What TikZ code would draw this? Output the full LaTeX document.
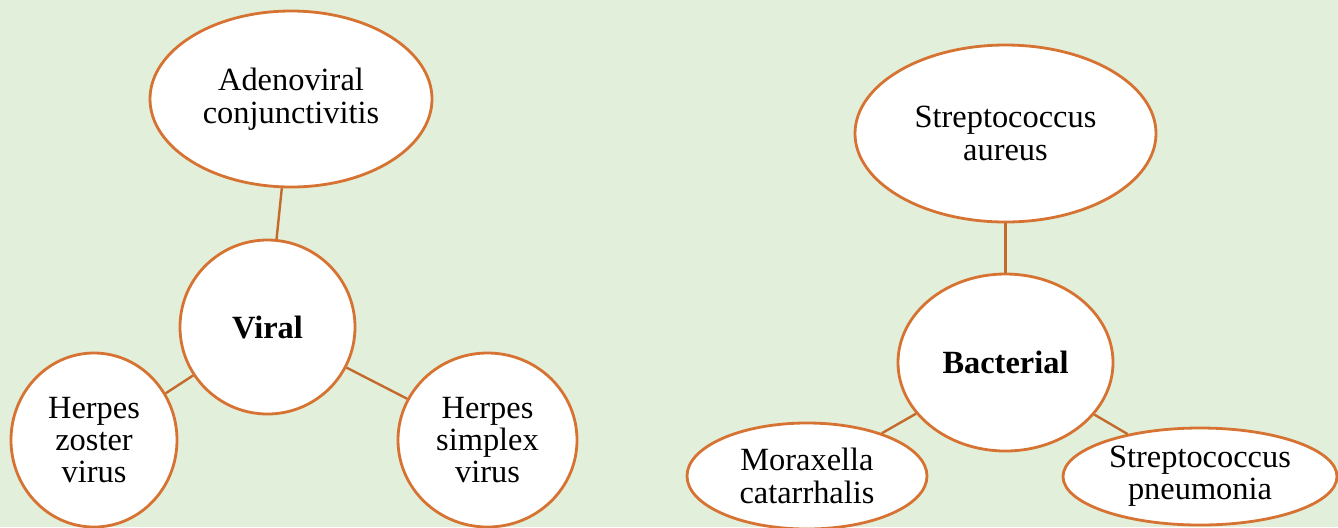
\documentclass[tikz,border=0pt]{standalone}
\usepackage{fontspec}
\setmainfont{Liberation Serif}
\usepackage{xcolor}
\usetikzlibrary{shapes.geometric}
\definecolor{paleback}{HTML}{E2EFDA}
\definecolor{rimorange}{HTML}{D77332}
\definecolor{linkbrown}{HTML}{C46A2C}

\begin{document}
\begin{tikzpicture}[x=0.5pt,y=-0.5pt,
    bubble/.style={ellipse,draw=rimorange,line width=1.4pt,fill=white,
      inner sep=0pt,align=center,font=\fontsize{16.2}{16.2}\selectfont},
    link/.style={draw=linkbrown,line width=1.2pt}]
  \useasboundingbox (0,0) rectangle (1338,527);
  \fill[paleback] (0,0) rectangle (1338,527);
  \clip (0,0) rectangle (1338,527);

  % viral group
  \node[bubble,minimum width=141pt,minimum height=88pt] (adeno) at (291,99) {Adenoviral\\conjunctivitis};
  \node[bubble,minimum width=87.5pt,minimum height=87pt] (viral) at (267.5,327) {\textbf{Viral}};
  \node[bubble,minimum width=83pt,minimum height=87pt] (zoster) at (94,440) {Herpes\\zoster\\virus};
  \node[bubble,minimum width=89.5pt,minimum height=87pt] (simplex) at (487.5,440) {Herpes\\simplex\\virus};
  \draw[link] (viral) -- (adeno);
  \draw[link] (viral) -- (zoster);
  \draw[link] (viral) -- (simplex);

  % bacterial group
  \node[bubble,minimum width=150.5pt,minimum height=88.5pt] (aureus) at (1005.5,133.5) {Streptococcus\\aureus};
  \node[bubble,minimum width=107.5pt,minimum height=88.5pt] (bacterial) at (1005.5,362.5) {\textbf{Bacterial}};
  \node[bubble,minimum width=120pt,minimum height=53pt] (moraxella) at (807,476) {Moraxella\\catarrhalis};
  \node[bubble,minimum width=137pt,minimum height=48.5pt] (pneumo) at (1200,476.5) {Streptococcus\\pneumonia};
  \draw[link] (bacterial) -- (aureus);
  \draw[link] (bacterial) -- (moraxella);
  \draw[link] (bacterial) -- (pneumo);
\end{tikzpicture}
\end{document}
